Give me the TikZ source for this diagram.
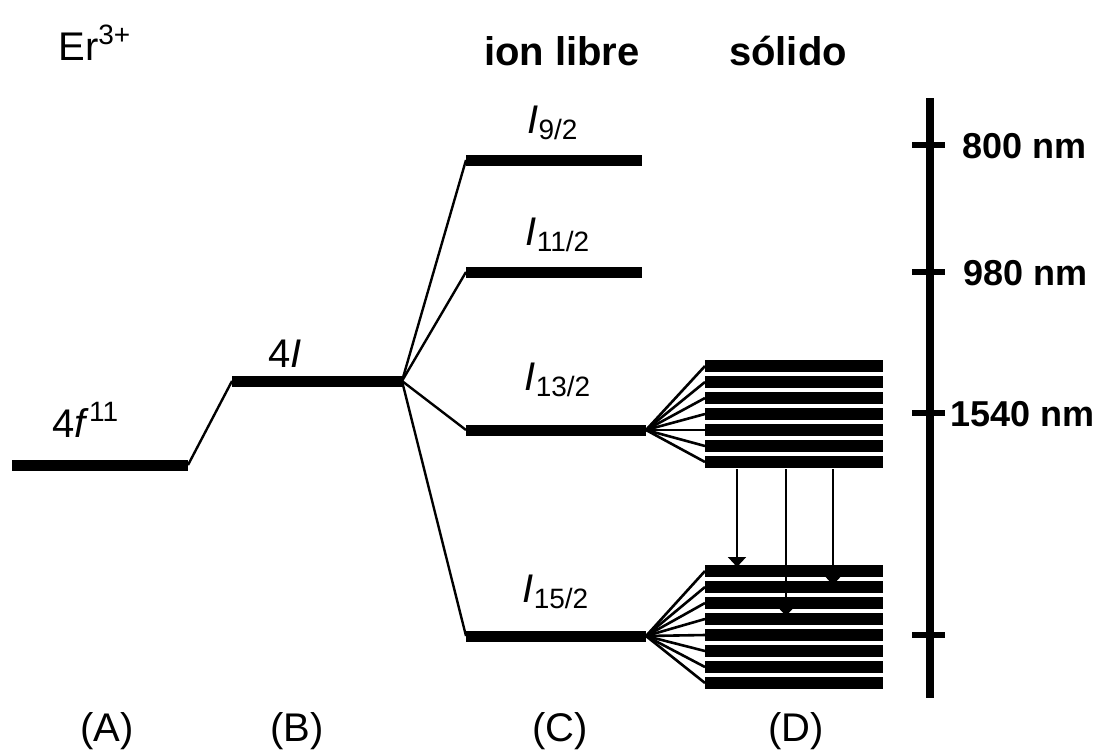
\documentclass[tikz,border=0pt]{standalone}
\usepackage{fontspec}
\setmainfont{Liberation Sans}
\usetikzlibrary{arrows.meta}
\newcommand{\lbl}{\fontsize{20}{24}\selectfont}
\newcommand{\nmlbl}{\fontsize{18}{22}\selectfont\bfseries}

\begin{document}
\begin{tikzpicture}[x=0.5pt,y=-0.5pt,every node/.style={inner sep=0pt,font=\lbl},
  lvl/.style={line width=5.5pt},
  fan/.style={line width=1.3pt},
  bar/.style={line width=6.4pt},
  axtick/.style={line width=3pt},
  jump/.style={line width=1pt,-{Triangle[width=9pt,length=5pt]}}]
\useasboundingbox (0,0) rectangle (1102,751);
% configuration and free ion
\coordinate (a0) at (12,465);\coordinate (a1) at (188,465);
\coordinate (b0) at (232,381);\coordinate (b1) at (402,381);
\coordinate (n9a) at (466,160);\coordinate (n9b) at (642,160);
\coordinate (n11a) at (466,272);\coordinate (n11b) at (642,272);
\coordinate (n13a) at (466,430);\coordinate (n13b) at (646,430);
\coordinate (n15a) at (466,636);\coordinate (n15b) at (646,636);
\draw[lvl] (a0)--(a1);
\draw[lvl] (b0)--(b1);
\draw[fan,line width=1.2pt] (a1)--(b0);
\foreach \n in {n9,n11,n13,n15}{
  \draw[lvl] (\n a)--(\n b);
  \draw[fan,line width=1.2pt] (b1)--(\n a);
}
% solid: Stark sublevels
\foreach \i in {0,...,6}{
  \coordinate (u\i) at (705,366+16*\i);\coordinate (ue\i) at (883,366+16*\i);
  \draw[bar] (u\i)--(ue\i);
  \draw[fan] (n13b)--(u\i);
}
\foreach \i in {0,...,7}{
  \coordinate (w\i) at (705,571+16*\i);\coordinate (we\i) at (883,571+16*\i);
  \draw[bar] (w\i)--(we\i);
  \draw[fan] (n15b)--(w\i);
}
\coordinate (t1) at (737,469);\coordinate (h1) at (737,567);
\coordinate (t2) at (786,469);\coordinate (h2) at (786,616);
\coordinate (t3) at (833,469);\coordinate (h3) at (833,585);
\draw[jump] (t1)--(h1);
\draw[jump] (t2)--(h2);
\draw[jump] (t3)--(h3);
% wavelength axis
\coordinate (ax0) at (930,98);\coordinate (ax1) at (930,698);
\draw[line width=4pt] (ax0)--(ax1);
\foreach \y/\k in {145/k1,272/k2,413/k3,635/k4}{
  \coordinate (\k a) at (912,\y);\coordinate (\k b) at (945,\y);
  \draw[axtick] (\k a)--(\k b);
}
\node[anchor=base west,font=\nmlbl] (l800) at (962,158) {800 nm};
\node[anchor=base west,font=\nmlbl] (l980) at (963,285) {980 nm};
\node[anchor=base west,font=\nmlbl] (l1540) at (950,426) {1540 nm};
% labels
\node[anchor=base west] (er) at (58,60) {Er\textsuperscript{3+}};
\node[anchor=base west] (cfg) at (52,437) {4\textit{f}\textsuperscript{11}};
\node[anchor=base] (term) at (285,367) {4\textit{I}};
\node[anchor=base] (j9) at (553,133) {\textit{I}\textsubscript{9/2}};
\node[anchor=base] (j11) at (558,245) {\textit{I}\textsubscript{11/2}};
\node[anchor=base] (j13) at (558,390) {\textit{I}\textsubscript{13/2}};
\node[anchor=base] (j15) at (556,602) {\textit{I}\textsubscript{15/2}};
\node[anchor=base,font=\lbl\bfseries] (free) at (562,65) {ion libre};
\node[anchor=base,font=\lbl\bfseries] (sol) at (788,65) {sólido};
\node[anchor=base] (pa) at (107,741) {(A)};
\node[anchor=base] (pb) at (297,741) {(B)};
\node[anchor=base] (pc) at (560,741) {(C)};
\node[anchor=base] (pd) at (796,741) {(D)};
\end{tikzpicture}
\end{document}
